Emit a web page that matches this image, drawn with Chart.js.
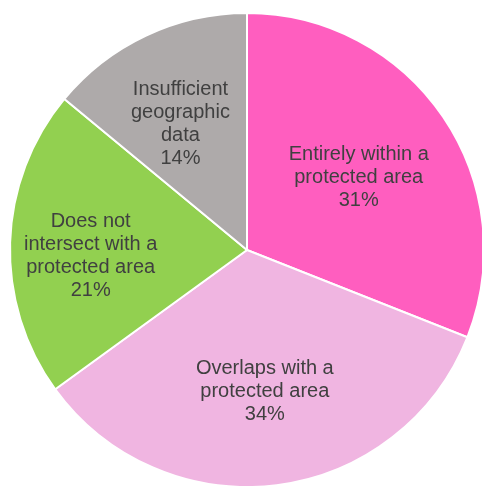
<!DOCTYPE html>
<html>
<head>
<meta charset="utf-8">
<script src="https://cdn.jsdelivr.net/npm/chart.js@4/dist/chart.umd.min.js"></script>
<style>
  html, body { margin: 0; padding: 0; background: #ffffff; overflow: hidden; }
  canvas { display: block; }
</style>
</head>
<body>
<canvas id="pieChart" width="482" height="486"></canvas>
<script>
// data
const categories = [
    ["Entirely within a", "protected area"],
    ["Overlaps with a", "protected area"],
    ["Does not", "intersect with a", "protected area"],
    ["Insufficient", "geographic", "data"]
];
const shares = [31, 34, 21, 14];
const sliceColors = ["#ff5ebf", "#f0b5e1", "#92d050", "#aeaaaa"];

// label placement: fraction of radius + small pixel nudge
const labelRadius = [0.57, 0.60, 0.66, 0.60];
const labelNudge = [[0, 3], [0, 0], [0, 11], [-6, 3]];

// draw labels inside slices
const sliceLabels = {
    id: "sliceLabels",
    afterDatasetsDraw(chart) {
        const ctx = chart.ctx;
        const arcs = chart.getDatasetMeta(0).data;
        ctx.save();
        ctx.font = "20px 'Liberation Sans', Arial, sans-serif";
        ctx.fillStyle = "#404040";
        ctx.textAlign = "center";
        ctx.textBaseline = "middle";
        const lineH = 23;
        arcs.forEach((arc, i) => {
            const p = arc.getProps(["x", "y", "startAngle", "endAngle", "outerRadius"], true);
            const mid = (p.startAngle + p.endAngle) / 2;
            const r = p.outerRadius * labelRadius[i];
            const cx = p.x + Math.cos(mid) * r + labelNudge[i][0];
            const cy = p.y + Math.sin(mid) * r + labelNudge[i][1];
            const lines = [...categories[i], shares[i] + "%"];
            const top = cy - (lines.length - 1) * lineH / 2;
            lines.forEach((t, j) => ctx.fillText(t, cx, top + j * lineH));
        });
        ctx.restore();
    }
};

new Chart(document.getElementById("pieChart").getContext("2d"), {
    type: "pie",
    data: {
        labels: categories,
        datasets: [{
            data: shares,
            backgroundColor: sliceColors,
            borderColor: "#ffffff",
            borderWidth: 2,
            clip: false
        }]
    },
    options: {
        responsive: false,
        animation: false,
        radius: 237,
        layout: { padding: { left: 12, right: 0, top: 14, bottom: 0 } },
        plugins: {
            legend: { display: false },
            tooltip: { enabled: false }
        }
    },
    plugins: [sliceLabels]
});
</script>
</body>
</html>
